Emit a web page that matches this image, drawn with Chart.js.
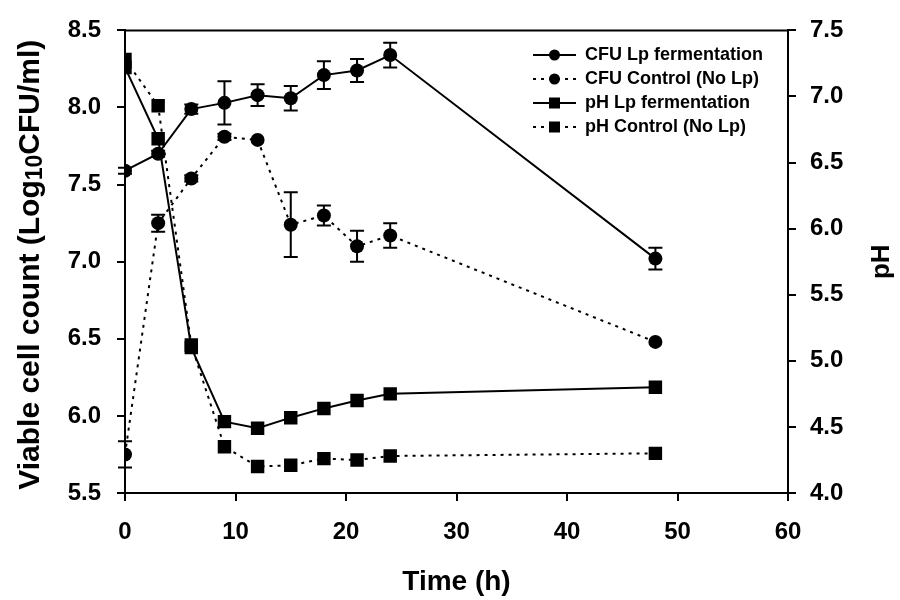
<!DOCTYPE html>
<html>
<head>
<meta charset="utf-8">
<script src="https://cdn.jsdelivr.net/npm/chart.js@4.4.1/dist/chart.umd.min.js"></script>
<style>
  html, body { margin: 0; padding: 0; background: #fff; }
  #wrap { width: 900px; height: 600px; }
</style>
</head>
<body>
<div id="wrap"><canvas id="growthChart" width="900" height="600"></canvas></div>
<script>
// --- Data ---
const times = [0, 3, 6, 9, 12, 15, 18, 21, 24, 48];

const cfuLp = [7.59, 7.70, 7.99, 8.03, 8.08, 8.06, 8.21, 8.24, 8.34, 7.02];
const cfuLpErr = [0.02, 0.02, 0.03, 0.14, 0.07, 0.08, 0.09, 0.075, 0.08, 0.07];

const cfuCtrl = [5.75, 7.25, 7.54, 7.81, 7.79, 7.24, 7.30, 7.10, 7.17, 6.48];
const cfuCtrlErr = [0.085, 0.055, 0.02, 0.02, 0, 0.21, 0.065, 0.10, 0.08, 0];

const phLp = [7.22, 6.68, 5.10, 4.54, 4.49, 4.57, 4.64, 4.70, 4.75, 4.80];
const phCtrl = [7.28, 6.93, 5.12, 4.35, 4.20, 4.21, 4.26, 4.25, 4.28, 4.30];

const seriesLabels = ['CFU Lp fermentation', 'CFU Control (No Lp)', 'pH Lp fermentation', 'pH Control (No Lp)'];

const xTitle = 'Time (h)';
// left title pieces: normal, subscript, normal
const yTitleParts = ['Viable cell count (Log', '10', 'CFU/ml)'];
const y1Title = 'pH';

// --- Helpers ---
const FONT = '"Liberation Sans", Arial, sans-serif';
const DOTTED = [3, 5];
const toPoints = (ys) => times.map((t, i) => ({ x: t, y: ys[i] }));

function drawMarker(ctx, style, x, y, r) {
    ctx.beginPath();
    if (style === 'rect') {
        ctx.rect(x - r, y - r, r * 2, r * 2);
    } else {
        ctx.arc(x, y, r, 0, Math.PI * 2);
    }
    ctx.fill();
}

// error bars drawn through the scales
const errorBars = {
    id: 'errorBars',
    afterDatasetsDraw(chart) {
        const ctx = chart.ctx;
        ctx.save();
        ctx.strokeStyle = '#000';
        ctx.lineWidth = 2;
        chart.data.datasets.forEach((ds) => {
            if (!ds.errors) return;
            const xs = chart.scales.x;
            const ys = chart.scales[ds.yAxisID];
            ds.data.forEach((p, i) => {
                const e = ds.errors[i];
                if (!e) return;
                const px = xs.getPixelForValue(p.x);
                const top = ys.getPixelForValue(p.y + e);
                const bot = ys.getPixelForValue(p.y - e);
                ctx.beginPath();
                ctx.moveTo(px, top); ctx.lineTo(px, bot);
                ctx.moveTo(px - 7, top); ctx.lineTo(px + 7, top);
                ctx.moveTo(px - 7, bot); ctx.lineTo(px + 7, bot);
                ctx.stroke();
            });
        });
        ctx.restore();
    }
};

// frame top line, vertical titles and legend inside the plot
const frameAndLegend = {
    id: 'frameAndLegend',
    afterDraw(chart) {
        const ctx = chart.ctx;
        const area = chart.chartArea;
        const midY = (area.top + area.bottom) / 2;
        ctx.save();
        ctx.strokeStyle = '#000';
        ctx.fillStyle = '#000';
        ctx.lineWidth = 2;
        ctx.beginPath();
        ctx.moveTo(area.left - 1, area.top);
        ctx.lineTo(area.right + 1, area.top);
        ctx.stroke();

        // Left title with subscript
        const big = 'bold 30px ' + FONT, small = 'bold 23px ' + FONT;
        ctx.save();
        ctx.translate(31, midY + 3);
        ctx.rotate(-Math.PI / 2);
        ctx.textBaseline = 'middle';
        ctx.textAlign = 'left';
        ctx.font = big; const w0 = ctx.measureText(yTitleParts[0]).width;
        ctx.font = small; const w1 = ctx.measureText(yTitleParts[1]).width;
        ctx.font = big; const w2 = ctx.measureText(yTitleParts[2]).width;
        let tx = -(w0 + w1 + w2) / 2;
        ctx.font = big; ctx.fillText(yTitleParts[0], tx, 0); tx += w0;
        ctx.font = small; ctx.fillText(yTitleParts[1], tx, 5); tx += w1;
        ctx.font = big; ctx.fillText(yTitleParts[2], tx, 0);
        ctx.restore();

        // Right title
        ctx.save();
        ctx.translate(882, midY);
        ctx.rotate(-Math.PI / 2);
        ctx.textBaseline = 'middle';
        ctx.textAlign = 'center';
        ctx.font = 'bold 26px ' + FONT;
        ctx.fillText(y1Title, 0, 0);
        ctx.restore();

        // Legend
        const x0 = 533, x1 = 576, lx = 585;
        let y = 55;
        ctx.font = 'bold 18px ' + FONT;
        ctx.textBaseline = 'middle';
        ctx.textAlign = 'left';
        chart.data.datasets.forEach(ds => {
            ctx.lineWidth = 2;
            ctx.setLineDash(ds.borderDash || []);
            ctx.beginPath();
            ctx.moveTo(x0, y); ctx.lineTo(x1, y);
            ctx.stroke();
            ctx.setLineDash([]);
            drawMarker(ctx, ds.pointStyle, (x0 + x1) / 2, y, 5.5);
            ctx.fillText(ds.label, lx, y);
            y += 24;
        });
        ctx.restore();
    }
};

const ctx = document.getElementById('growthChart').getContext('2d');

const tickFont = { family: FONT, size: 24, weight: 'bold' };
const titleFont = { family: FONT, size: 28, weight: 'bold' };
const axisGrid = { display: true, drawOnChartArea: false, drawTicks: true, tickLength: 8, color: '#000', lineWidth: 2 };
const axisBorder = { display: true, color: '#000', width: 2 };

const datasets = [
    {
        label: seriesLabels[0], data: toPoints(cfuLp), errors: cfuLpErr, yAxisID: 'y',
        borderColor: '#000', backgroundColor: '#000', borderWidth: 2,
        pointStyle: 'circle', pointRadius: 7, pointBorderWidth: 0
    },
    {
        label: seriesLabels[1], data: toPoints(cfuCtrl), errors: cfuCtrlErr, yAxisID: 'y',
        borderColor: '#000', backgroundColor: '#000', borderWidth: 2, borderDash: DOTTED,
        pointStyle: 'circle', pointRadius: 7, pointBorderWidth: 0
    },
    {
        label: seriesLabels[2], data: toPoints(phLp), yAxisID: 'y1',
        borderColor: '#000', backgroundColor: '#000', borderWidth: 2,
        pointStyle: 'rect', pointRadius: 9.5, pointBorderWidth: 0
    },
    {
        label: seriesLabels[3], data: toPoints(phCtrl), yAxisID: 'y1',
        borderColor: '#000', backgroundColor: '#000', borderWidth: 2, borderDash: DOTTED,
        pointStyle: 'rect', pointRadius: 9.5, pointBorderWidth: 0
    }
];

new Chart(ctx, {
    type: 'line',
    data: { datasets: datasets },
    plugins: [errorBars, frameAndLegend],
    options: {
        responsive: false,
        animation: false,
        layout: { padding: { top: 22, left: 0, right: 0, bottom: 0 } },
        plugins: {
            legend: { display: false },
            tooltip: { enabled: false }
        },
        elements: { line: { tension: 0 } },
        scales: {
            x: {
                type: 'linear', min: 0, max: 60,
                ticks: { stepSize: 10, color: '#000', font: tickFont, padding: 17, maxRotation: 0 },
                grid: axisGrid, border: axisBorder,
                title: { display: true, text: xTitle, color: '#000', font: titleFont, padding: { top: 0, bottom: 1 } },
                afterFit: (s) => { s.height = 107; }
            },
            y: {
                position: 'left', min: 5.5, max: 8.5,
                ticks: { stepSize: 0.5, color: '#000', font: tickFont, padding: 16, callback: v => v.toFixed(1) },
                grid: axisGrid, border: axisBorder,
                afterFit: (s) => { s.width = 125; }
            },
            y1: {
                position: 'right', min: 4.0, max: 7.5,
                ticks: { stepSize: 0.5, color: '#000', font: tickFont, padding: 14, callback: v => v.toFixed(1) },
                grid: axisGrid, border: axisBorder,
                afterFit: (s) => { s.width = 112; }
            }
        }
    }
});
</script>
</body>
</html>
